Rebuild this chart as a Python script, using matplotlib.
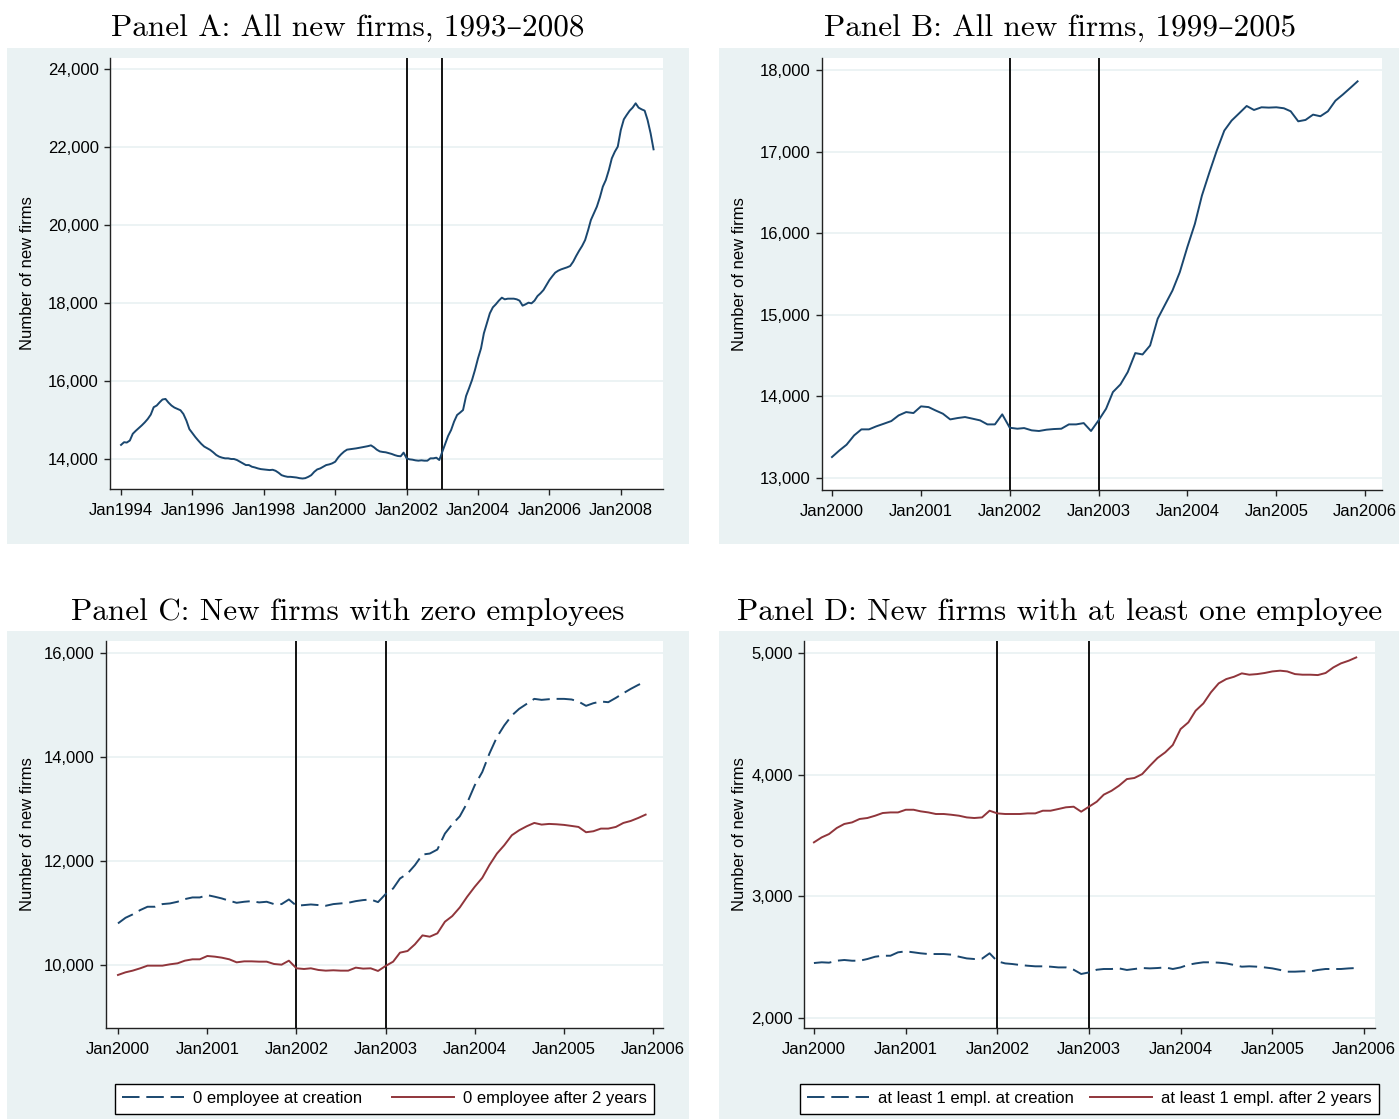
import numpy as np
import pandas as pd
import matplotlib
matplotlib.use('Agg')
import matplotlib.pyplot as plt
import matplotlib.dates as mdates
from matplotlib.patches import Rectangle
from matplotlib.ticker import FuncFormatter
from matplotlib.lines import Line2D

# ---- data (monthly values) ----
panel_a_firms = [
    14362, 14431, 14422, 14474, 14647, 14724, 14793, 14862, 14940, 15026, 15138, 15328,
    15371, 15457, 15526, 15540, 15448, 15371, 15319, 15284, 15250, 15155, 14983, 14767,
    14664, 14560, 14474, 14388, 14319, 14276, 14233, 14172, 14103, 14060, 14034, 14017,
    14017, 14000, 14000, 13974, 13931, 13888, 13845, 13845, 13802, 13784, 13759, 13741,
    13733, 13724, 13716, 13724, 13698, 13647, 13586, 13560, 13543, 13543, 13534, 13526,
    13509, 13500, 13509, 13543, 13586, 13672, 13733, 13759, 13802, 13845, 13862, 13888,
    13930, 14040, 14120, 14190, 14240, 14250, 14260, 14272, 14285, 14300, 14315, 14330,
    14350, 14300, 14240, 14195, 14181, 14172, 14150, 14130, 14100, 14078, 14070, 14164,
    14017, 13991, 13983, 13966, 13957, 13966, 13957, 13957, 14017, 14017, 14034, 13974,
    14188, 14402, 14590, 14744, 14957, 15128, 15188, 15256, 15615, 15812, 16026, 16282,
    16581, 16838, 17222, 17479, 17735, 17889, 17966, 18060, 18137, 18094, 18111, 18111,
    18111, 18094, 18060, 17932, 17966, 18009, 17991, 18060, 18179, 18248, 18333, 18462,
    18590, 18692, 18778, 18829, 18863, 18889, 18915, 18949, 19060, 19205, 19342, 19462,
    19615, 19872, 20128, 20299, 20470, 20709, 20983, 21154, 21410, 21709, 21880, 22009,
    22436, 22709, 22821, 22932, 23009, 23120, 23009, 22966, 22932, 22692, 22350, 21940,
]

panel_b_firms = [
    13257, 13339, 13408, 13522, 13596, 13596, 13633, 13665, 13698, 13767, 13808, 13796,
    13878, 13869, 13829, 13788, 13718, 13735, 13747, 13727, 13706, 13657, 13657, 13780,
    13616, 13604, 13612, 13584, 13576, 13592, 13600, 13604, 13657, 13657, 13673, 13576,
    13706, 13849, 14053, 14147, 14298, 14531, 14514, 14624, 14951, 15122, 15298, 15522,
    15829, 16114, 16461, 16747, 17012, 17257, 17380, 17469, 17559, 17510, 17543, 17539,
    17543, 17531, 17494, 17371, 17388, 17453, 17433, 17494, 17624, 17698, 17780, 17861,
]

panel_c_creation = [
    10800, 10908, 10972, 11056, 11120, 11120, 11171, 11184, 11216, 11267, 11299, 11299,
    11344, 11312, 11280, 11235, 11196, 11216, 11228, 11203, 11216, 11171, 11171, 11260,
    11139, 11152, 11164, 11152, 11139, 11171, 11184, 11196, 11228, 11248, 11260, 11209,
    11363, 11472, 11663, 11759, 11919, 12124, 12143, 12220, 12527, 12706, 12860, 13116,
    13455, 13711, 14063, 14383, 14607, 14798, 14926, 15022, 15118, 15099, 15112, 15118,
    15118, 15106, 15067, 14984, 15035, 15067, 15054, 15137, 15227, 15310, 15387, 15451,
]
panel_c_after2 = [
    9808, 9859, 9891, 9936, 9987, 9987, 9987, 10013, 10032, 10083, 10109, 10109,
    10173, 10160, 10141, 10109, 10051, 10070, 10070, 10064, 10064, 10019, 10006, 10083,
    9936, 9923, 9936, 9904, 9891, 9898, 9891, 9891, 9949, 9930, 9936, 9885,
    9981, 10064, 10237, 10269, 10397, 10569, 10544, 10608, 10832, 10940, 11107, 11312,
    11503, 11676, 11919, 12143, 12303, 12495, 12591, 12668, 12732, 12700, 12713, 12706,
    12694, 12674, 12655, 12553, 12572, 12623, 12623, 12655, 12732, 12770, 12828, 12892,
]

panel_d_creation = [
    2452, 2458, 2455, 2471, 2477, 2471, 2471, 2485, 2504, 2512, 2512, 2540,
    2548, 2540, 2532, 2526, 2526, 2526, 2521, 2504, 2490, 2485, 2488, 2532,
    2466, 2449, 2444, 2436, 2430, 2425, 2425, 2422, 2416, 2416, 2397, 2362,
    2375, 2397, 2403, 2403, 2408, 2395, 2403, 2411, 2408, 2411, 2416, 2403,
    2416, 2438, 2449, 2458, 2458, 2455, 2449, 2436, 2422, 2425, 2422, 2416,
    2408, 2395, 2381, 2381, 2384, 2384, 2395, 2403, 2403, 2403, 2408, 2411,
]
panel_d_after2 = [
    3444, 3485, 3512, 3562, 3595, 3608, 3636, 3644, 3663, 3685, 3690, 3690,
    3712, 3712, 3699, 3690, 3677, 3677, 3671, 3663, 3649, 3644, 3649, 3704,
    3682, 3677, 3677, 3677, 3682, 3682, 3704, 3704, 3718, 3732, 3737, 3696,
    3737, 3778, 3836, 3868, 3910, 3964, 3973, 4005, 4074, 4137, 4184, 4244,
    4375, 4430, 4526, 4586, 4677, 4751, 4786, 4805, 4833, 4822, 4827, 4836,
    4849, 4855, 4849, 4827, 4822, 4822, 4819, 4836, 4882, 4915, 4937, 4964,
]

months_a = pd.date_range('1994-01-01', periods=len(panel_a_firms), freq='MS')
months_bcd = pd.date_range('2000-01-01', periods=len(panel_b_firms), freq='MS')
reform_dates = [pd.Timestamp('2002-01-01'), pd.Timestamp('2003-01-01')]

# ---- style ----
W, H = 1399, 1119
NAVY = '#1a476f'
MAROON = '#90353b'
BG = '#eaf2f3'
DASH = (9, 3.5)
plt.rcParams['font.family'] = ['Liberation Sans', 'DejaVu Sans']
TITLE_FONT = ['cmr10', 'DejaVu Serif']

fig = plt.figure(figsize=(W / 100, H / 100), dpi=100)
fig.patch.set_facecolor('white')


def yr(y):
    # fractional year -> matplotlib date number
    base = int(np.floor(y))
    return mdates.date2num(pd.Timestamp(base, 1, 1)) + (y - base) * 365.25


def panel(bg, box, title, title_x, title_y, xlim, xtick_years, ylim, yticks, ylab_x):
    fig.add_artist(Rectangle((bg[0] / W, 1 - bg[3] / H), (bg[2] - bg[0]) / W,
                             (bg[3] - bg[1]) / H, transform=fig.transFigure,
                             facecolor=BG, edgecolor='none', zorder=0))
    fig.text(title_x / W, 1 - title_y / H, title, family=TITLE_FONT, fontsize=22.5,
             ha='center', va='baseline')
    x0, y0, x1, y1 = box
    ax = fig.add_axes([x0 / W, 1 - y1 / H, (x1 - x0) / W, (y1 - y0) / H])
    ax.set_facecolor('white')
    ax.set_xlim(yr(xlim[0]), yr(xlim[1]))
    ax.set_ylim(*ylim)
    ax.set_xticks([pd.Timestamp(y, 1, 1) for y in xtick_years])
    ax.set_xticklabels(['Jan%d' % y for y in xtick_years], fontsize=12)
    ax.set_yticks(yticks)
    ax.yaxis.set_major_formatter(FuncFormatter(lambda v, p: '{:,.0f}'.format(v)))
    ax.tick_params(axis='y', labelsize=12)
    ax.tick_params(direction='out', length=4, width=1, color='#222222')
    ax.tick_params(axis='x', pad=6)
    ax.tick_params(axis='y', pad=4)
    for s in ['top', 'right']:
        ax.spines[s].set_visible(False)
    for s in ['left', 'bottom']:
        ax.spines[s].set_color('#222222')
        ax.spines[s].set_linewidth(1.0)
    ax.yaxis.grid(True, color=BG, lw=1.3)
    ax.set_axisbelow(True)
    ax.set_ylabel('Number of new firms', fontsize=12)
    ax.yaxis.label.set_va('center')
    ax.yaxis.set_label_coords((ylab_x - x0) / (x1 - x0), 0.5)
    for d in reform_dates:
        ax.axvline(d, color='black', lw=1.3, zorder=3)
    return ax


# Panel A
ax = panel((7, 48, 689, 544), (110, 58, 663, 489),
           'Panel A: All new firms, 1993\u20132008', 348, 37,
           (1993.69, 2009.18), range(1994, 2009, 2),
           (13231, 24282), range(14000, 24001, 2000), 28)
ax.plot(months_a, panel_a_firms, color=NAVY, lw=1.4, zorder=4)

# Panel B
ax = panel((719, 48, 1399, 544), (822, 58, 1382, 490),
           'Panel B: All new firms, 1999\u20132005', 1060, 37,
           (1999.887, 2006.19), range(2000, 2007),
           (12853, 18147), range(13000, 18001, 1000), 740)
ax.plot(months_bcd, panel_b_firms, color=NAVY, lw=1.4, zorder=4)

# Panel C
ax = panel((7, 631, 689, 1119), (106, 641, 663, 1028),
           'Panel C: New firms with zero employees', 348, 620,
           (1999.865, 2006.11), range(2000, 2007),
           (8788, 16231), range(10000, 16001, 2000), 28)
ax.plot(months_bcd, panel_c_creation, color=NAVY, lw=1.4, dashes=DASH, zorder=4)
ax.plot(months_bcd, panel_c_after2, color=MAROON, lw=1.4, zorder=4)
handles = [Line2D([], [], color=NAVY, lw=1.4, dashes=DASH),
           Line2D([], [], color=MAROON, lw=1.4)]
leg = ax.legend(handles, ['0 employee at creation', '0 employee after 2 years'],
                loc='center', bbox_to_anchor=(384.5 / W, 1 - 1098.5 / H),
                bbox_transform=fig.transFigure, ncol=2, fontsize=12, frameon=True,
                fancybox=False, edgecolor='black', framealpha=1, handlelength=3.7,
                columnspacing=1.8, handletextpad=0.55, borderpad=0.45)
leg.get_frame().set_linewidth(1.0)

# Panel D
ax = panel((719, 631, 1399, 1119), (804, 641, 1375, 1028),
           'Panel D: New firms with at least one employee', 1060, 620,
           (1999.891, 2006.12), range(2000, 2007),
           (1918, 5099), range(2000, 5001, 1000), 740)
ax.plot(months_bcd, panel_d_creation, color=NAVY, lw=1.4, dashes=DASH, zorder=4)
ax.plot(months_bcd, panel_d_after2, color=MAROON, lw=1.4, zorder=4)
leg = ax.legend(handles, ['at least 1 empl. at creation', 'at least 1 empl. after 2 years'],
                loc='center', bbox_to_anchor=(1089.5 / W, 1 - 1098.5 / H),
                bbox_transform=fig.transFigure, ncol=2, fontsize=12, frameon=True,
                fancybox=False, edgecolor='black', framealpha=1, handlelength=3.7,
                columnspacing=1.0, handletextpad=0.55, borderpad=0.45)
leg.get_frame().set_linewidth(1.0)

fig.savefig('out.png', dpi=100, facecolor='white')
